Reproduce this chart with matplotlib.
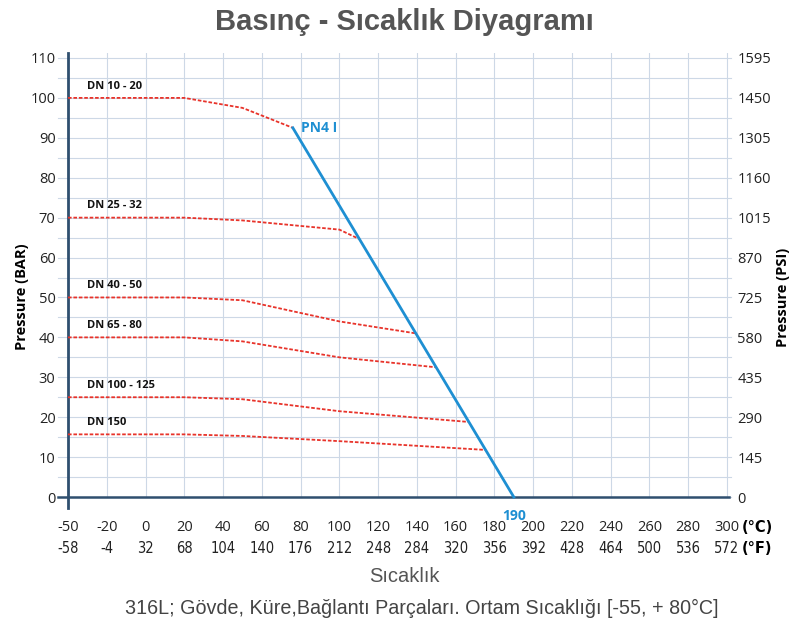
import numpy as np
import matplotlib
matplotlib.use("Agg")
import matplotlib.pyplot as plt
from matplotlib.transforms import blended_transform_factory

# x axis is evenly spaced by tick, not by value
celsius_ticks = [-50, -20, 0, 20, 40, 60, 80, 100, 120, 140, 160, 180, 200, 220, 240, 260, 280, 300]
fahrenheit_ticks = [-58, -4, 32, 68, 104, 140, 176, 212, 248, 284, 320, 356, 392, 428, 464, 500, 536, 572]
bar_ticks = list(range(0, 111, 10))
psi_ticks = [0, 145, 290, 435, 580, 725, 870, 1015, 1160, 1305, 1450, 1595]

# PN41 limit line
pn_temp = [76, 190]
pn_bar = [92.5, 0]

# DN curves (temperature °C, pressure bar)
dn_names = ["DN 10 - 20", "DN 25 - 32", "DN 40 - 50", "DN 65 - 80", "DN 100 - 125", "DN 150"]
dn_temps = [
    [-50, 20, 50, 76],
    [-50, 20, 50, 100, 110],
    [-50, 20, 50, 100, 139.5],
    [-50, 20, 50, 100, 150],
    [-50, 20, 50, 100, 167],
    [-50, 20, 50, 100, 175.5],
]
dn_bars = [
    [100, 100, 97.5, 92.5],
    [70, 70, 69.3, 67, 64.7],
    [50, 50, 49.3, 44, 41],
    [40, 40, 39, 35, 32.5],
    [25, 25, 24.5, 21.5, 18.8],
    [15.7, 15.7, 15.3, 14, 11.8],
]


def xpos(t):
    return np.interp(t, celsius_ticks, np.arange(len(celsius_ticks)))


GRID = "#cdd8e6"
SPINE = "#2f4f6f"
RED = "#e8332a"
BLUE = "#1e8fd2"
TICKFONT = ["Open Sans", "DejaVu Sans"]

n = len(celsius_ticks) - 1
fig = plt.figure(figsize=(8.08, 6.3), dpi=100)
ax = fig.add_axes([68 / 808, 121.8 / 630, (727 - 68) / 808 * (n + 0.05) / n, 455 / 630])
ax.set_xlim(0, n + 0.05)
ax.set_ylim(-2.8, 111.2)

# grid
for i in range(len(celsius_ticks)):
    ax.plot([i, i], [0, 111.2], color=GRID, lw=0.8, zorder=0)
for v in np.arange(0, 111, 5):
    ax.plot([-0.25, n + 0.1], [v, v], color=GRID, lw=0.8, zorder=0, clip_on=False)

for s in ["top", "right", "bottom"]:
    ax.spines[s].set_visible(False)
ax.spines["left"].set_color(SPINE)
ax.spines["left"].set_linewidth(2)
ax.plot([-0.25, n + 0.05], [0, 0], color=SPINE, lw=1.8, zorder=2, clip_on=False)

ax.set_xticks([])
ax.set_yticks(bar_ticks)
ax.set_yticklabels([str(v) for v in bar_ticks], fontsize=10.5, color="#222", family=TICKFONT)
ax.tick_params(axis="y", length=0, pad=9)

ax2 = ax.twinx()
ax2.set_ylim(ax.get_ylim())
ax2.set_yticks(bar_ticks)
ax2.set_yticklabels([str(v) for v in psi_ticks], fontsize=10.5, color="#222", family=TICKFONT)
ax2.tick_params(axis="y", length=0, pad=6)
for s in ax2.spines.values():
    s.set_visible(False)

# x tick labels, two rows
tr = blended_transform_factory(ax.transData, ax.transAxes)
for i, (c, f) in enumerate(zip(celsius_ticks, fahrenheit_ticks)):
    ax.text(i, -0.043, str(c), transform=tr, ha="center", va="center", fontsize=10.5,
            color="#222", family=TICKFONT)
    ax.text(i, -0.088, str(f), transform=tr, ha="center", va="center", fontsize=10.5,
            color="#222", family="DejaVu Sans", fontstretch="condensed")
ax.text(n + 0.38, -0.043, "(°C)", transform=tr, ha="left", va="center", fontsize=10.5, fontweight="bold")
ax.text(n + 0.38, -0.088, "(°F)", transform=tr, ha="left", va="center", fontsize=10.5, fontweight="bold")

# DN curves
for name, t, b in zip(dn_names, dn_temps, dn_bars):
    ax.plot(xpos(t), b, color=RED, lw=1.3, ls=(0, (2, 1)), zorder=3)
    ax.text(0.5, b[0] + 1.6, name, fontsize=8, fontweight="bold", color="#111",
            va="bottom", family=TICKFONT)

# PN41 line
ax.plot(xpos(pn_temp), pn_bar, color=BLUE, lw=2, zorder=4)
ax.text(xpos(80), 92.5, "PN4 I", color=BLUE, fontsize=10, fontweight="bold", va="center",
        family=TICKFONT)
ax.text(xpos(190), -3.0, "190", color=BLUE, fontsize=10, fontweight="bold", ha="center",
        va="top", family=TICKFONT)

fig.text(22 / 808, 1 - 297 / 630, "Pressure (BAR)", rotation=90, ha="center", va="center",
         fontsize=10.5, fontweight="bold", family=TICKFONT)
fig.text(783 / 808, 1 - 297 / 630, "Pressure (PSI)", rotation=90, ha="center", va="center",
         fontsize=10.5, fontweight="bold", family=TICKFONT)

fig.text(0.5, 1 - 22 / 630, "Basınç - Sıcaklık Diyagramı", ha="center", va="center",
         fontsize=21, fontweight="bold", color="#555555", family="Liberation Sans")
fig.text(0.5, 1 - 577 / 630, "Sıcaklık", ha="center", va="center",
         fontsize=14.5, color="#555555", family="Liberation Sans")
fig.text(422 / 808, 1 - 608 / 630, "316L; Gövde, Küre,Bağlantı Parçaları. Ortam Sıcaklığı [-55, + 80°C]",
         ha="center", va="center", fontsize=14.2, color="#444444", family="Liberation Sans")

fig.savefig("out.png", dpi=100)
